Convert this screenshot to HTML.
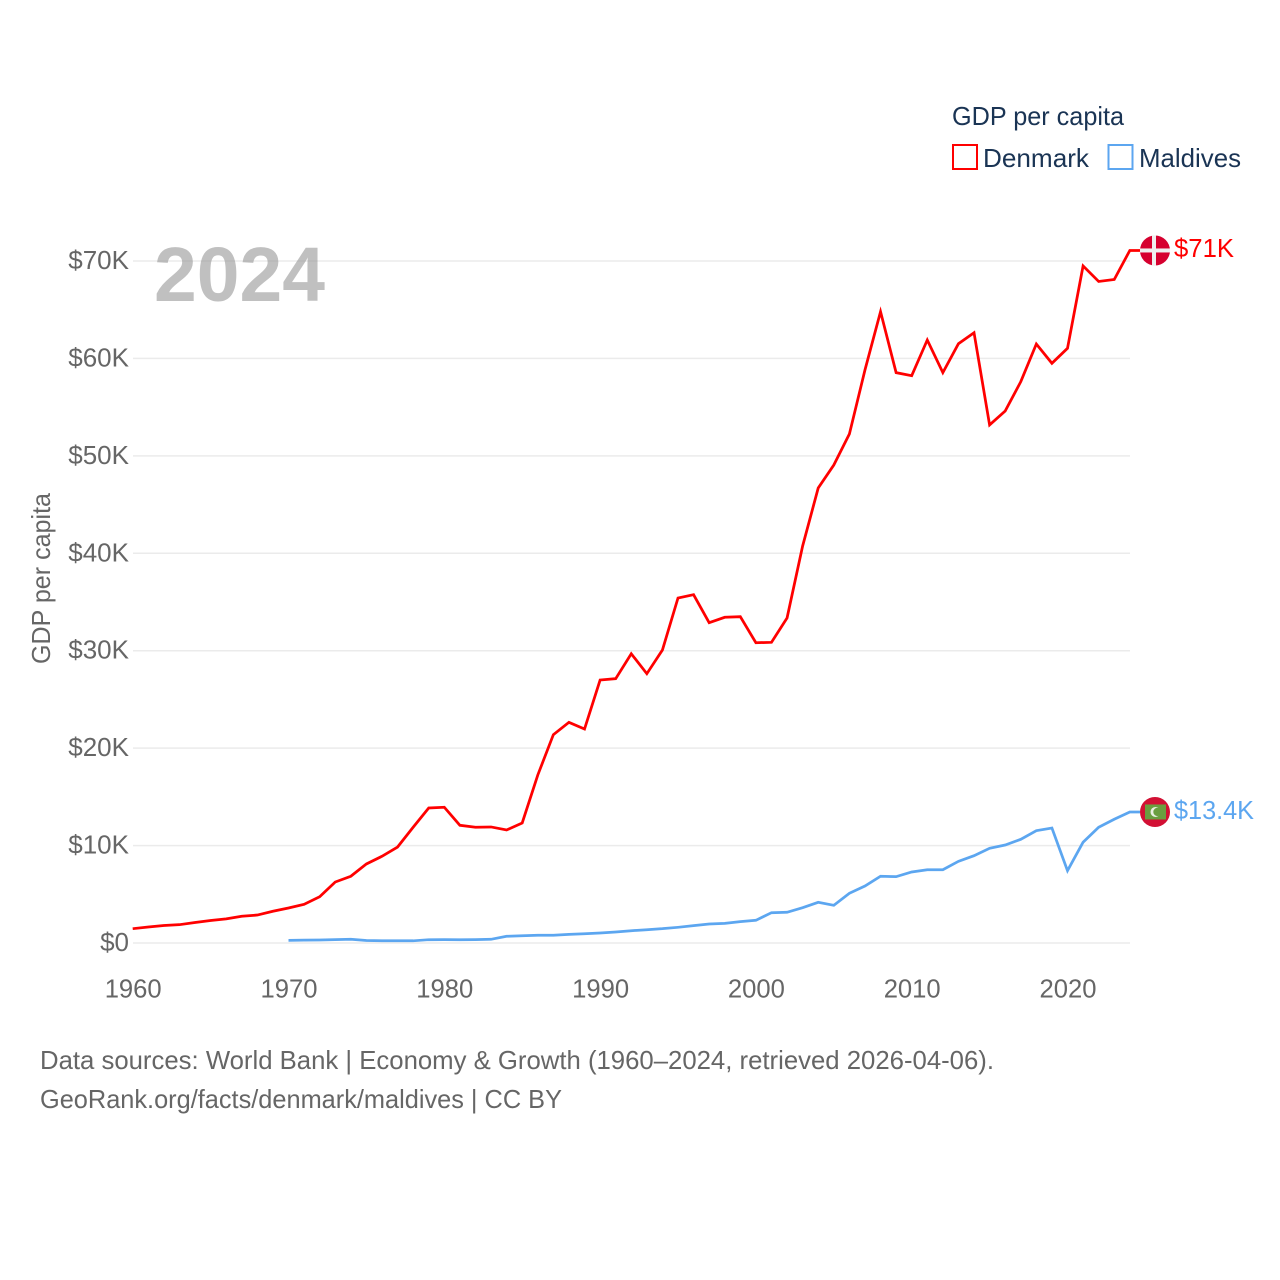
<!DOCTYPE html>
<html lang="en">
<head>
<meta charset="utf-8">
<title>GDP per capita: Denmark and Maldives</title>
<style>
  html, body { margin: 0; padding: 0; background: #fff; }
  svg { display: block; font-family: "Liberation Sans", Arial, sans-serif; }
</style>
</head>
<body>
<svg id="chart" xmlns="http://www.w3.org/2000/svg" width="1280" height="1280" viewBox="0 0 1280 1280">
  <rect x="0" y="0" width="1280" height="1280" fill="#ffffff"/>
  <g id="grid"></g>
  <g id="yticks"></g>
  <g id="xticks"></g>
  <text transform="translate(50,664) rotate(-90)" font-size="26" fill="#666666" textLength="171" lengthAdjust="spacingAndGlyphs">GDP per capita</text>
  <text x="154" y="301" font-size="77" font-weight="700" fill="#8c8c8c" fill-opacity="0.55" textLength="171" lengthAdjust="spacingAndGlyphs">2024</text>
  <g id="series"></g>
  <g id="markers"></g>

  <g>
    <text x="952" y="125" font-size="26" fill="#1a3454" textLength="172" lengthAdjust="spacingAndGlyphs">GDP per capita</text>
    <g>
      <rect x="953" y="145" width="24" height="24" fill="#ffffff" stroke="#ff0000" stroke-width="2"/>
      <text x="983" y="167" font-size="26" fill="#1a3454" textLength="106" lengthAdjust="spacingAndGlyphs">Denmark</text>
    </g>
    <g>
      <rect x="1108.500" y="145" width="24" height="24" fill="#ffffff" stroke="#5ca6f0" stroke-width="2"/>
      <text x="1139" y="167" font-size="26" fill="#1a3454" textLength="102" lengthAdjust="spacingAndGlyphs">Maldives</text>
    </g>
  </g>

  <text x="40" y="1069" font-size="26" fill="#666666" textLength="954" lengthAdjust="spacingAndGlyphs">Data sources: World Bank | Economy &amp; Growth (1960–2024, retrieved 2026-04-06).</text>
  <text x="40" y="1108" font-size="26" fill="#666666" textLength="522" lengthAdjust="spacingAndGlyphs">GeoRank.org/facts/denmark/maldives | CC BY</text>
</svg>

<script>
const yTickValues = [0, 10000, 20000, 30000, 40000, 50000, 60000, 70000];
const yTickLabels = ["$0", "$10K", "$20K", "$30K", "$40K", "$50K", "$60K", "$70K"];
const xTickYears = [1960, 1970, 1980, 1990, 2000, 2010, 2020];
const xTickLabels = ["1960", "1970", "1980", "1990", "2000", "2010", "2020"];

const denmarkStartYear = 1960;
const denmarkValues = [
  1470, 1640, 1800, 1880, 2100, 2310, 2480, 2740, 2870, 3260,
  3590, 3970, 4750, 6260, 6850, 8110, 8900, 9850, 11880, 13860,
  13930, 12080, 11880, 11910, 11600, 12320, 17240, 21380, 22650, 21960,
  26990, 27130, 29690, 27640, 30070, 35410, 35750, 32880, 33430, 33490,
  30820, 30860, 33360, 40750, 46700, 49060, 52240, 58810, 64800, 58540,
  58230, 61890, 58540, 61510, 62640, 53170, 54600, 57610, 61480, 59500,
  61040, 69490, 67900, 68100, 71080
];
const denmarkEndLabel = "$71K";

const maldivesStartYear = 1970;
const maldivesValues = [
  270, 290, 310, 350, 380, 260, 235, 225, 225, 340,
  350, 340, 350, 380, 690, 750, 790, 790, 890, 955,
  1030, 1130, 1260, 1365, 1470, 1610, 1780, 1950, 2020, 2190,
  2330, 3110, 3150, 3620, 4180, 3870, 5100, 5850, 6850, 6810,
  7290, 7520, 7520, 8380, 8960, 9720, 10060, 10640, 11530, 11800,
  7420, 10340, 11880, 12700, 13450
];
const maldivesEndLabel = "$13.4K";

const SVGNS = "http://www.w3.org/2000/svg";
const RED = "#ff0000";
const BLUE = "#5ca6f0";
const xScale = function (year) { return 132.7 + (year - 1960) * 15.58; };
const yScale = function (value) { return 943 - value * 97.43 / 10000; };

function make(tag, parent, attrs) {
  const el = document.createElementNS(SVGNS, tag);
  for (const k in attrs) el.setAttribute(k, attrs[k]);
  parent.appendChild(el);
  return el;
}

const gridG = document.getElementById("grid");
const yG = document.getElementById("yticks");
const xG = document.getElementById("xticks");
const seriesG = document.getElementById("series");
const markersG = document.getElementById("markers");

yTickValues.forEach(function (v, i) {
  const line = make("line", gridG, { x1: 133, x2: 1130, y1: yScale(v), y2: yScale(v), stroke: "#ebebeb", "stroke-width": 1.5 });
  
  
  const t = make("text", yG, { x: 129, y: yScale(v) + 8, "font-size": 26, fill: "#666666", "text-anchor": "end" });
  t.textContent = yTickLabels[i];
  
  
});

xTickYears.forEach(function (yr, i) {
  const t = make("text", xG, { x: xScale(yr) + 0.5, y: 997.500, "font-size": 26, fill: "#666666", "text-anchor": "middle", textLength: 57, lengthAdjust: "spacingAndGlyphs" });
  t.textContent = xTickLabels[i];
  
  
});

function linePoints(startYear, values) {
  const pts = values.map(function (v, i) {
    return xScale(startYear + i).toFixed(2) + "," + yScale(v).toFixed(2);
  });
  pts.push("1140," + yScale(values[values.length - 1]).toFixed(2));
  return pts.join(" ");
}

const denmarkLine = make("polyline", seriesG, { points: linePoints(denmarkStartYear, denmarkValues), fill: "none", stroke: RED, "stroke-width": 2.75, "stroke-linejoin": "miter" });



const maldivesLine = make("polyline", seriesG, { points: linePoints(maldivesStartYear, maldivesValues), fill: "none", stroke: BLUE, "stroke-width": 2.75, "stroke-linejoin": "miter" });



/* Denmark end marker */
const dkY = yScale(denmarkValues[denmarkValues.length - 1]);
const dkFlag = make("g", markersG, {});


make("circle", dkFlag, { cx: 1155, cy: dkY, r: 15, fill: "#d6002f" });
make("rect", dkFlag, { x: 1152, y: dkY - 15, width: 4, height: 30, fill: "#efefef" });
make("rect", dkFlag, { x: 1140, y: dkY - 2, width: 30, height: 4, fill: "#efefef" });
const dkLabel = make("text", markersG, { x: 1174, y: dkY + 6.500, "font-size": 26, fill: RED, textLength: 60, lengthAdjust: "spacingAndGlyphs" });
dkLabel.textContent = denmarkEndLabel;



/* Maldives end marker */
const mvY = yScale(maldivesValues[maldivesValues.length - 1]);
const mvFlag = make("g", markersG, {});


make("circle", mvFlag, { cx: 1155, cy: mvY, r: 15, fill: "#d21034" });
make("rect", mvFlag, { x: 1145, y: mvY - 7.500, width: 21, height: 15, fill: "#6a9e3f" });
make("circle", mvFlag, { cx: 1155.500, cy: mvY, r: 5, fill: "#e8efe0" });
make("circle", mvFlag, { cx: 1157.500, cy: mvY, r: 4.200, fill: "#6a9e3f" });
const mvLabel = make("text", markersG, { x: 1174, y: mvY + 7, "font-size": 26, fill: BLUE, textLength: 80, lengthAdjust: "spacingAndGlyphs" });
mvLabel.textContent = maldivesEndLabel;


</script>
</body>
</html>
